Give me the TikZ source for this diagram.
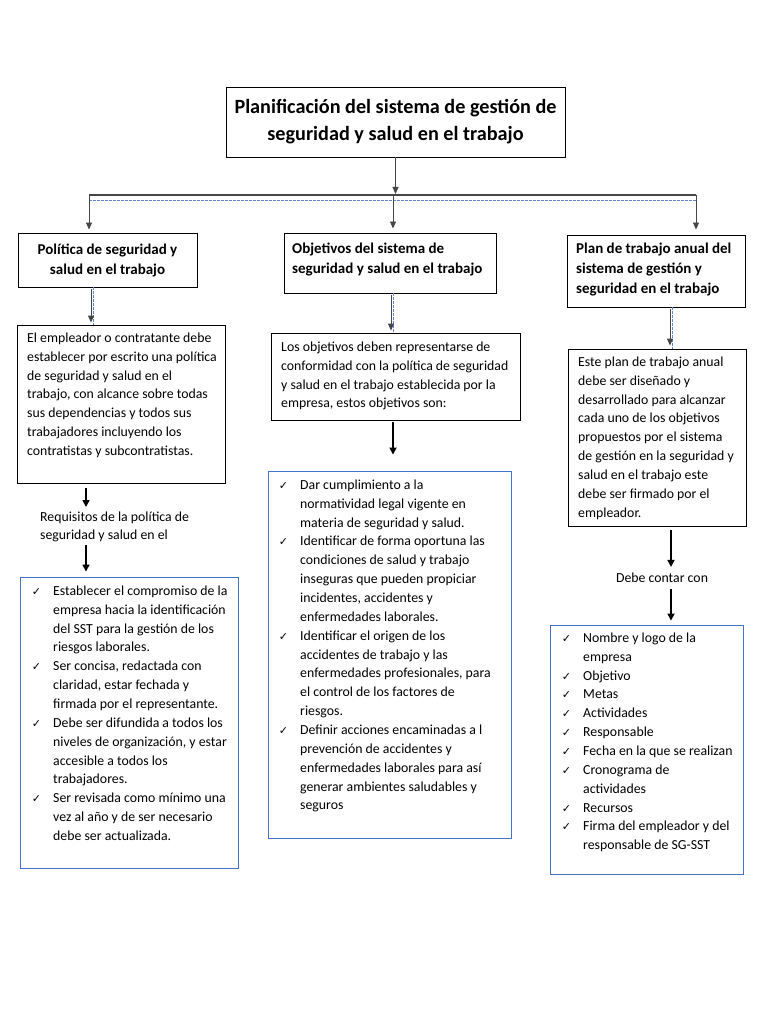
\documentclass[tikz,border=0pt]{standalone}
\usepackage{fontspec}
\setmainfont{Carlito}
\newfontfamily\symf{DejaVu Sans}
\usetikzlibrary{arrows.meta}
\definecolor{wblue}{RGB}{68,114,196}
\definecolor{lblue}{RGB}{95,135,215}
\definecolor{dgray}{RGB}{70,70,70}
\newcommand\chk{\llap{{\symf\fontsize{11}{11}\selectfont ✓}\hspace{12pt}}}
\tikzset{
  frame/.style={draw=black, line width=0.9pt, inner sep=0pt, rectangle},
  bframe/.style={draw=wblue, line width=0.9pt, inner sep=0pt, rectangle},
  body/.style={font=\fontsize{13.8}{18.85}\selectfont, align=left, inner sep=0pt, anchor=north west},
  hdrtxt/.style={font=\bfseries\fontsize{15}{20}\selectfont, align=left, inner sep=0pt, anchor=north west},
  gline/.style={draw=dgray, line width=1.1pt},
  garrow/.style={draw=dgray, line width=0.9pt, -{Triangle[length=7pt,width=6pt]}},
  bdash/.style={draw=lblue, line width=0.8pt, dash pattern=on 2.5pt off 1.5pt},
  barrow/.style={draw=black, line width=1.6pt, -{Triangle[length=7pt,width=7pt]}}
}
\begin{document}
\begin{tikzpicture}[x=1pt,y=-1pt]
\useasboundingbox (0,0) rectangle (768,1024);
\fill[white] (0,0) rectangle (768,1024);

% title
\node[frame, minimum width=339pt, minimum height=70pt, align=center,
  font=\bfseries\fontsize{20.2}{27}\selectfont] (title) at (395.5,122)
  {Planificación del sistema de gestión de\\seguridad y salud en el trabajo};

% headers
\node[frame, minimum width=179pt, minimum height=54pt, align=center,
  font=\bfseries\fontsize{15}{20}\selectfont] (pol) at (107.5,260)
  {Política de seguridad y\\salud en el trabajo};
\node[frame, minimum width=212pt, minimum height=60pt] (obj) at (390,263) {};
\node[hdrtxt] (objt) at (292,239.5) {\strut Objetivos del sistema de\\seguridad y salud en el trabajo};
\node[frame, minimum width=178pt, minimum height=72pt] (plan) at (656,271) {};
\node[hdrtxt] (plant) at (576,239.5) {\strut Plan de trabajo anual del\\sistema de gestión y\\seguridad en el trabajo};

% text boxes
\node[frame, minimum width=208pt, minimum height=158pt] (emp) at (121,404) {};
\node[body] (empt) at (27,329) {\strut El empleador o contratante debe\\establecer por escrito una política\\de seguridad y salud en el\\trabajo, con alcance sobre todas\\sus dependencias y todos sus\\trabajadores incluyendo los\\contratistas y subcontratistas.};
\node[frame, minimum width=249pt, minimum height=87pt] (obj2) at (395.5,376.5) {};
\node[body] (obj2t) at (281,338) {\strut Los objetivos deben representarse de\\conformidad con la política de seguridad\\y salud en el trabajo establecida por la\\empresa, estos objetivos son:};
\node[frame, minimum width=178pt, minimum height=177pt] (plan2) at (657,437.5) {};
\node[body] (plan2t) at (578,353) {\strut Este plan de trabajo anual\\debe ser diseñado y\\desarrollado para alcanzar\\cada uno de los objetivos\\propuestos por el sistema\\de gestión en la seguridad y\\salud en el trabajo este\\debe ser firmado por el\\empleador.};

% intermediate texts
\node[body, font=\fontsize{13.8}{18}\selectfont] (req) at (40,509) {\strut Requisitos de la política de\\seguridad y salud en el};
\node[inner sep=0pt, font=\fontsize{13.8}{18}\selectfont] (debe) at (662,578) {Debe contar con};

% lists
\node[bframe, minimum width=218pt, minimum height=291pt] (l1) at (129,722.5) {};
\node[body] (l1t) at (53,582) {\strut\chk Establecer el compromiso de la\\empresa hacia la identificación\\del SST para la gestión de los\\riesgos laborales.\\\chk Ser concisa, redactada con\\claridad, estar fechada y\\firmada por el representante.\\\chk Debe ser difundida a todos los\\niveles de organización, y estar\\accesible a todos los\\trabajadores.\\\chk Ser revisada como mínimo una\\vez al año y de ser necesario\\debe ser actualizada.};

\node[bframe, minimum width=243pt, minimum height=367pt] (l2) at (389.5,654.5) {};
\node[body] (l2t) at (300,476) {\strut\chk Dar cumplimiento a la\\normatividad legal vigente en\\materia de seguridad y salud.\\\chk Identificar de forma oportuna las\\condiciones de salud y trabajo\\inseguras que pueden propiciar\\incidentes, accidentes y\\enfermedades laborales.\\\chk Identificar el origen de los\\accidentes de trabajo y las\\enfermedades profesionales, para\\el control de los factores de\\riesgos.\\\chk Definir acciones encaminadas a l\\prevención de accidentes y\\enfermedades laborales para así\\generar ambientes saludables y\\seguros};

\node[bframe, minimum width=193pt, minimum height=249pt] (l3) at (646.5,749.5) {};
\node[body] (l3t) at (583,629) {\strut\chk Nombre y logo de la\\empresa\\\chk Objetivo\\\chk Metas\\\chk Actividades\\\chk Responsable\\\chk Fecha en la que se realizan\\\chk Cronograma de\\actividades\\\chk Recursos\\\chk Firma del empleador y del\\responsable de SG-SST};

% top connectors
\coordinate (jt) at (395.5,195);
\coordinate (hl) at (89,195);
\coordinate (hm) at (393,195);
\coordinate (hr) at (696,195);
\coordinate (dl) at (89,200);
\coordinate (dr) at (697,200);
\draw[garrow, shorten >=1pt] (title.south) -- (jt);
\draw[gline] (hl) -- (hr);
\draw[bdash] (dl) -- (dr);
\draw[garrow, shorten >=3pt] (hl) -- (hl |- pol.north);
\draw[garrow, shorten >=4pt] (hm) -- (hm |- obj.north);
\draw[garrow, shorten >=5pt] (hr) -- (hr |- plan.north);

% header to text connectors
\coordinate (c1) at (91,0);   \coordinate (c1b) at (93.5,0);
\coordinate (c2) at (391,0);  \coordinate (c2b) at (393.5,0);
\coordinate (c3) at (670,0);  \coordinate (c3b) at (672.5,0);
\draw[bdash] (c1b |- pol.south) -- (c1b |- emp.north);
\draw[garrow, shorten <=2pt, shorten >=2pt] (c1 |- pol.south) -- (c1 |- emp.north);
\draw[bdash] (c2b |- obj.south) -- (c2b |- obj2.north);
\draw[garrow, shorten <=2pt, shorten >=2pt] (c2 |- obj.south) -- (c2 |- obj2.north);
\draw[bdash] (c3b |- plan.south) -- (c3b |- plan2.north);
\draw[garrow, shorten <=2pt, shorten >=3pt] (c3 |- plan.south) -- (c3 |- plan2.north);

% lower black arrows
\coordinate (c4) at (86,0);
\coordinate (c5) at (393,0);
\coordinate (c6) at (671,0);
\draw[barrow, shorten <=5pt, shorten >=2pt] (c4 |- emp.south) -- (c4 |- req.north);
\draw[barrow, shorten <=3pt, shorten >=5pt] (c4 |- req.south) -- (c4 |- l1.north);
\draw[barrow, shorten <=2pt, shorten >=16pt] (c5 |- obj2.south) -- (c5 |- l2.north);
\draw[barrow, shorten <=4pt, shorten >=6pt] (c6 |- plan2.south) -- (c6 |- debe.north);
\draw[barrow, shorten <=6pt, shorten >=4pt] (c6 |- debe.south) -- (c6 |- l3.north);
\end{tikzpicture}
\end{document}
